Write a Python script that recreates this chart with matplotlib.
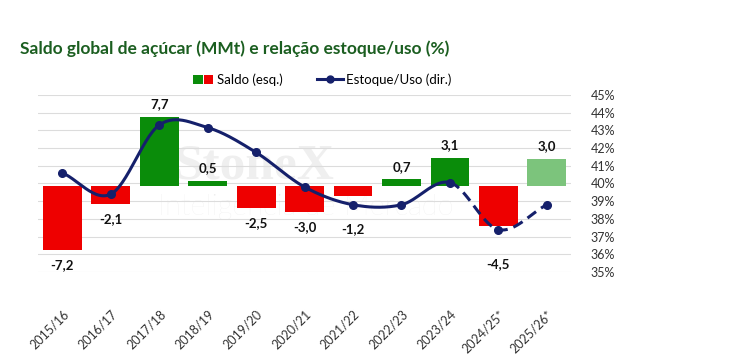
import numpy as np
import matplotlib
matplotlib.use("Agg")
import matplotlib.pyplot as plt
import matplotlib.transforms as mtransforms
from matplotlib.patches import Rectangle
from matplotlib.lines import Line2D
from matplotlib.legend_handler import HandlerBase

plt.rcParams["font.family"] = ["Lato", "DejaVu Sans"]

safras = ["2015/16", "2016/17", "2017/18", "2018/19", "2019/20", "2020/21",
          "2021/22", "2022/23", "2023/24", "2024/25*", "2025/26*"]
saldo = [-7.2, -2.1, 7.7, 0.5, -2.5, -3.0, -1.2, 0.7, 3.1, -4.5, 3.0]
estoque_uso = [40.6, 39.4, 43.3, 43.15, 41.75, 39.8, 38.8, 38.8, 40.05, 37.4, 38.8]
pct_ticks = [35, 36, 37, 38, 39, 40, 41, 42, 43, 44, 45]

GREEN = "#0a8c0a"
RED = "#ee0000"
LIGHT_GREEN = "#7cc47c"
NAVY = "#15206b"
GRID = "#dcdcdc"

# extra push for labels that were moved away from the line in the original
label_nudge = {6: 2.0, 9: 2.6}


def catmull_rom(xs, ys, n=30):
    # smoothed line through the points, like Excel's "smoothed line"
    px = np.concatenate([[2 * xs[0] - xs[1]], xs, [2 * xs[-1] - xs[-2]]])
    py = np.concatenate([[2 * ys[0] - ys[1]], ys, [2 * ys[-1] - ys[-2]]])
    outx, outy = [], []
    t = np.linspace(0, 1, n)
    for i in range(1, len(px) - 2):
        for p, out in ((px, outx), (py, outy)):
            p0, p1, p2, p3 = p[i - 1], p[i], p[i + 1], p[i + 2]
            seg = 0.5 * ((2 * p1) + (-p0 + p2) * t +
                         (2 * p0 - 5 * p1 + 4 * p2 - p3) * t ** 2 +
                         (-p0 + 3 * p1 - 3 * p2 + p3) * t ** 3)
            out.append(seg if i == 1 else seg[1:])
    return np.concatenate(outx), np.concatenate(outy)


class TwoSquares(HandlerBase):
    def create_artists(self, legend, orig, xd, yd, w, h, fs, trans):
        s = h * 1.0
        a = Rectangle((xd + w - 2 * s - 1, yd), s, s, fc=GREEN, ec="none", transform=trans)
        b = Rectangle((xd + w - s, yd), s, s, fc=RED, ec="none", transform=trans)
        return [a, b]


fig = plt.figure(figsize=(7.34, 3.58), dpi=100)

# marca d'agua (behind the axes)
fig.text(0.347, 0.536, "StoneX", fontsize=37, color="#efefef", ha="center",
         va="center", fontweight="bold",
         family=["Liberation Serif", "DejaVu Serif"], zorder=-5)
fig.text(0.416, 0.422, "Inteligência de Mercado", fontsize=21, color="#ededed",
         ha="center", va="center", fontweight="light", zorder=-5)

ax = fig.add_axes([0.052, 0.240, 0.726, 0.495])
ax2 = ax.twinx()
ax.patch.set_visible(False)
ax2.patch.set_visible(False)

x = np.arange(len(safras))
colors = [RED if v < 0 else GREEN for v in saldo]
colors[-1] = LIGHT_GREEN
ax.bar(x, saldo, width=0.8, color=colors, zorder=2)
ax.set_ylim(-9.7, 10.2)
ax.set_xlim(-0.5, len(safras) - 0.5)
ax2.set_ylim(35, 45)

# grid at the right-axis ticks, drawn under the bars
grid_tr = mtransforms.blended_transform_factory(ax.transAxes, ax2.transData)
for p in pct_ticks:
    ax.plot([0, 1], [p, p], color=GRID, lw=0.8, transform=grid_tr, zorder=0)

for i, (xi, v) in enumerate(zip(x, saldo)):
    lbl = f"{v:.1f}".replace(".", ",")
    if v >= 0:
        ax.text(xi, v + 0.75, lbl, ha="center", va="bottom", fontsize=9.5,
                fontweight="bold", color="#111111", zorder=5)
    else:
        ax.text(xi, v - 1.0 - label_nudge.get(i, 0), lbl, ha="center", va="top",
                fontsize=9.5, fontweight="bold", color="#111111", zorder=5)

ax.set_yticks([])
for s in ax.spines.values():
    s.set_visible(False)
for s in ax2.spines.values():
    s.set_visible(False)

ax2.set_yticks(pct_ticks)
ax2.set_yticklabels([f"{p}%" for p in pct_ticks], fontsize=9, color="#333333")
ax2.tick_params(axis="y", length=0, pad=14)

ax.set_xticks(x)
ax.set_xticklabels(safras, rotation=45, ha="right", rotation_mode="anchor",
                   fontsize=9, color="#333333")
ax.tick_params(axis="x", length=0, pad=26)

sx, sy = catmull_rom(x.astype(float), np.array(estoque_uso, dtype=float))
split = 8 * 30 - 8
ax2.plot(sx[:split + 1], sy[:split + 1], color=NAVY, lw=2.2, zorder=4)
ax2.plot(sx[split:], sy[split:], color=NAVY, lw=2.2, ls=(0, (3.5, 2)), zorder=4)
ax2.plot(x, estoque_uso, ls="none", marker="o", ms=5.5, color=NAVY, zorder=5)

fig.text(0.027, 0.865, "Saldo global de açúcar (MMt) e relação estoque/uso (%)",
         fontsize=12.5, fontweight="bold", color="#1b5e20", ha="left", va="center")

h1 = Rectangle((0, 0), 1, 1)
h2 = Line2D([], [], color=NAVY, lw=2.2, marker="o", ms=5)
fig.legend([h1, h2], ["Saldo (esq.)", "Estoque/Uso (dir.)"],
           handler_map={Rectangle: TwoSquares()},
           loc="center", bbox_to_anchor=(0.435, 0.777), ncol=2, frameon=False,
           fontsize=9.5, handlelength=2.0, handletextpad=0.25, columnspacing=2.6)

fig.savefig("out.png", dpi=100)
